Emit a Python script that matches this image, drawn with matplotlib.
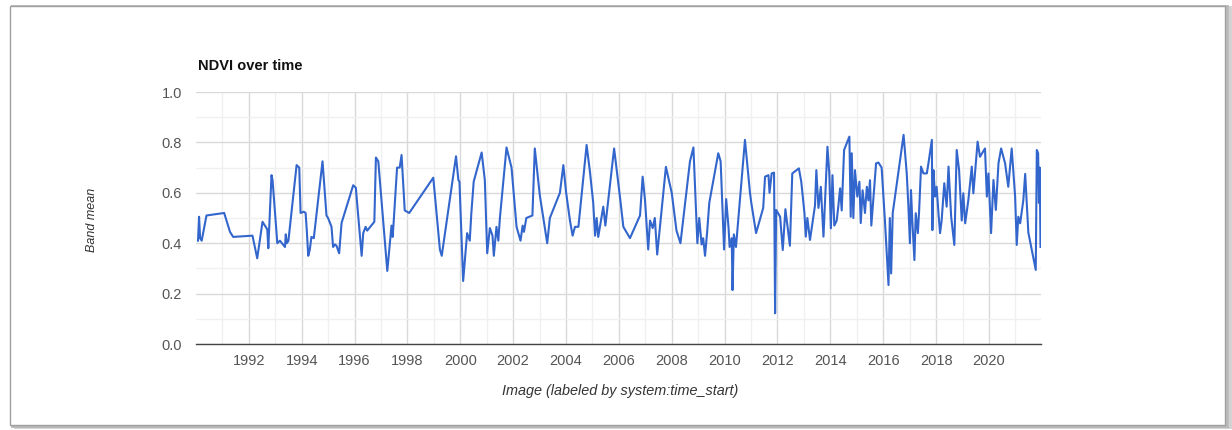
from matplotlib import pyplot as plt
from matplotlib.patches import FancyBboxPatch
import numpy as np

# decimal year of each image
years = [
    1990.08, 1990.12, 1990.16, 1990.22, 1990.40, 1991.07, 1991.29, 1991.41,
    1992.14, 1992.32, 1992.52, 1992.70, 1992.74, 1992.86, 1992.90, 1993.08,
    1993.18, 1993.37, 1993.40, 1993.44, 1993.50, 1993.81, 1993.91, 1993.96,
    1994.08, 1994.15, 1994.19, 1994.25, 1994.31, 1994.37, 1994.46, 1994.79,
    1994.94, 1995.00, 1995.13, 1995.19, 1995.26, 1995.32, 1995.42, 1995.51,
    1995.95, 1996.05, 1996.27, 1996.33, 1996.42, 1996.48, 1996.75, 1996.81,
    1996.90, 1997.24, 1997.40, 1997.44, 1997.47, 1997.61, 1997.71, 1997.78,
    1997.90, 1998.07, 1998.98, 1999.23, 1999.30, 1999.84, 1999.93, 1999.97,
    2000.11, 2000.26, 2000.36, 2000.42, 2000.51, 2000.81, 2000.93, 2001.02,
    2001.12, 2001.22, 2001.27, 2001.37, 2001.44, 2001.50, 2001.75, 2001.94,
    2002.13, 2002.28, 2002.36, 2002.41, 2002.50, 2002.73, 2002.82, 2003.01,
    2003.29, 2003.39, 2003.77, 2003.90, 2004.00, 2004.15, 2004.25, 2004.34,
    2004.47, 2004.78, 2004.91, 2005.03, 2005.10, 2005.16, 2005.22, 2005.41,
    2005.49, 2005.82, 2006.04, 2006.17, 2006.42, 2006.80, 2006.90, 2006.99,
    2007.11, 2007.18, 2007.28, 2007.36, 2007.45, 2007.78, 2008.00, 2008.18,
    2008.33, 2008.69, 2008.82, 2008.97, 2009.04, 2009.13, 2009.19, 2009.26,
    2009.34, 2009.42, 2009.76, 2009.85, 2009.98, 2010.06, 2010.15, 2010.19,
    2010.27, 2010.30, 2010.35, 2010.43, 2010.77, 2010.96, 2011.01, 2011.19,
    2011.46, 2011.53, 2011.66, 2011.70, 2011.78, 2011.87, 2011.91, 2011.95,
    2012.10, 2012.20, 2012.30, 2012.47, 2012.56, 2012.81, 2012.90, 2013.02,
    2013.07, 2013.13, 2013.23, 2013.32, 2013.42, 2013.47, 2013.55, 2013.64,
    2013.74, 2013.89, 2013.96, 2014.02, 2014.08, 2014.15, 2014.24, 2014.30,
    2014.37, 2014.43, 2014.52, 2014.72, 2014.77, 2014.81, 2014.87, 2014.93,
    2015.02, 2015.10, 2015.15, 2015.22, 2015.31, 2015.38, 2015.44, 2015.50,
    2015.55, 2015.73, 2015.82, 2015.94, 2016.07, 2016.12, 2016.20, 2016.25,
    2016.30, 2016.36, 2016.77, 2016.89, 2016.95, 2017.01, 2017.05, 2017.10,
    2017.18, 2017.23, 2017.31, 2017.36, 2017.43, 2017.52, 2017.65, 2017.71,
    2017.84, 2017.86, 2017.90, 2017.96, 2018.02, 2018.09, 2018.15, 2018.21,
    2018.31, 2018.40, 2018.47, 2018.57, 2018.69, 2018.78, 2018.87, 2018.97,
    2019.03, 2019.10, 2019.22, 2019.35, 2019.41, 2019.57, 2019.66, 2019.85,
    2019.92, 2019.98, 2020.08, 2020.17, 2020.26, 2020.36, 2020.46, 2020.61,
    2020.73, 2020.86, 2020.92, 2020.99, 2021.05, 2021.11, 2021.18, 2021.30,
    2021.37, 2021.49, 2021.77, 2021.81, 2021.86, 2021.89, 2021.92, 2021.95,
]

# band mean NDVI
ndvi = [
    0.41, 0.505, 0.42, 0.41, 0.51, 0.52, 0.445, 0.425,
    0.43, 0.34, 0.485, 0.455, 0.38, 0.67, 0.65, 0.40,
    0.41, 0.385, 0.435, 0.40, 0.41, 0.71, 0.70, 0.52,
    0.525, 0.52, 0.46, 0.35, 0.375, 0.425, 0.42, 0.725,
    0.51, 0.50, 0.465, 0.385, 0.395, 0.39, 0.36, 0.48,
    0.63, 0.62, 0.35, 0.44, 0.465, 0.45, 0.485, 0.74,
    0.725, 0.29, 0.47, 0.425, 0.465, 0.70, 0.70, 0.75,
    0.53, 0.52, 0.66, 0.375, 0.35, 0.745, 0.65, 0.645,
    0.25, 0.44, 0.41, 0.52, 0.645, 0.76, 0.65, 0.36,
    0.46, 0.43, 0.35, 0.465, 0.41, 0.50, 0.78, 0.70,
    0.465, 0.41, 0.47, 0.445, 0.50, 0.51, 0.776, 0.59,
    0.40, 0.50, 0.60, 0.71, 0.605, 0.49, 0.43, 0.465,
    0.465, 0.79, 0.68, 0.56, 0.43, 0.50, 0.425, 0.545,
    0.47, 0.776, 0.585, 0.465, 0.42, 0.51, 0.664, 0.57,
    0.375, 0.49, 0.46, 0.50, 0.355, 0.703, 0.60, 0.45,
    0.40, 0.725, 0.78, 0.40, 0.50, 0.395, 0.42, 0.35,
    0.445, 0.56, 0.757, 0.725, 0.375, 0.575, 0.46, 0.385,
    0.42, 0.214, 0.435, 0.385, 0.81, 0.60, 0.56, 0.44,
    0.54, 0.664, 0.67, 0.60, 0.677, 0.68, 0.122, 0.532,
    0.505, 0.373, 0.535, 0.39, 0.677, 0.697, 0.644, 0.52,
    0.426, 0.50, 0.413, 0.479, 0.55, 0.69, 0.54, 0.624,
    0.426, 0.783, 0.677, 0.459, 0.67, 0.47, 0.49, 0.545,
    0.618, 0.53, 0.77, 0.823, 0.505, 0.757, 0.50, 0.69,
    0.585, 0.644, 0.48, 0.61, 0.52, 0.624, 0.57, 0.65,
    0.47, 0.717, 0.72, 0.70, 0.48, 0.385, 0.234, 0.50,
    0.28, 0.52, 0.83, 0.677, 0.552, 0.40, 0.611, 0.49,
    0.333, 0.519, 0.44, 0.532, 0.704, 0.677, 0.677, 0.717,
    0.81, 0.452, 0.69, 0.585, 0.624, 0.519, 0.44, 0.49,
    0.638, 0.545, 0.704, 0.505, 0.393, 0.77, 0.69, 0.49,
    0.598, 0.479, 0.571, 0.704, 0.598, 0.803, 0.743, 0.776,
    0.585, 0.677, 0.44, 0.651, 0.532, 0.717, 0.776, 0.717,
    0.624, 0.776, 0.69, 0.585, 0.393, 0.505, 0.479, 0.571,
    0.675, 0.442, 0.294, 0.77, 0.757, 0.56, 0.70, 0.385,
]

year_ticks = list(range(1992, 2021, 2))
value_ticks = [0.0, 0.2, 0.4, 0.6, 0.8, 1.0]

plt.rcParams['font.family'] = ['Liberation Sans', 'DejaVu Sans']

fig = plt.figure(figsize=(12.32, 4.3), dpi=100)
fig.patch.set_facecolor('white')

# card frame with a soft shadow (kept behind the axes)
for off, col in [(0.004, '#d0d0d0'), (0.002, '#b8b8b8')]:
    fig.patches.append(FancyBboxPatch((0.008 + off, 0.012 - off), 0.986, 0.975,
                                      boxstyle='square,pad=0', transform=fig.transFigure,
                                      facecolor='none', edgecolor=col, linewidth=2.0, zorder=-3))
fig.patches.append(FancyBboxPatch((0.008, 0.012), 0.986, 0.975,
                                  boxstyle='square,pad=0', transform=fig.transFigure,
                                  facecolor='white', edgecolor='#a0a0a0', linewidth=1.0, zorder=-2))

ax = fig.add_axes([0.159, 0.2, 0.686, 0.586])
ax.set_zorder(2)
ax.set_facecolor('none')
ax.plot(years, ndvi, color='#3366cc', linewidth=1.5, zorder=3)

ax.set_xlim(1990.0, 2021.97)
ax.set_ylim(0, 1.0)
ax.set_xticks(year_ticks)
ax.set_xticklabels([str(y) for y in year_ticks])
ax.set_xticks(np.arange(1991, 2022, 2), minor=True)
ax.set_yticks(value_ticks)
ax.set_yticklabels(['%.1f' % v for v in value_ticks])
ax.set_yticks(np.arange(0.1, 1.0, 0.2), minor=True)

ax.grid(which='major', color='#d9d9d9', linewidth=1.0, zorder=0)
ax.grid(which='minor', color='#f0f0f0', linewidth=1.0, zorder=0)
ax.tick_params(which='both', length=0, labelsize=10.5, labelcolor='#555555')
ax.tick_params(axis='x', pad=7)
ax.tick_params(axis='y', pad=10)
for s in ['top', 'right', 'left']:
    ax.spines[s].set_visible(False)
ax.spines['bottom'].set_color('#444444')
ax.spines['bottom'].set_linewidth(1.0)

fig.text(198 / 1232, 1 - 66 / 430, 'NDVI over time', fontsize=10.5, fontweight='bold',
         color='#111111', va='center', ha='left')
fig.text(92 / 1232, 1 - 220 / 430, 'Band mean', fontsize=9, fontstyle='italic',
         color='#333333', rotation=90, va='center', ha='center')
fig.text(620 / 1232, 1 - 391 / 430, 'Image (labeled by system:time_start)', fontsize=10.4,
         fontstyle='italic', color='#333333', va='center', ha='center')

fig.savefig('out.png', dpi=100)
